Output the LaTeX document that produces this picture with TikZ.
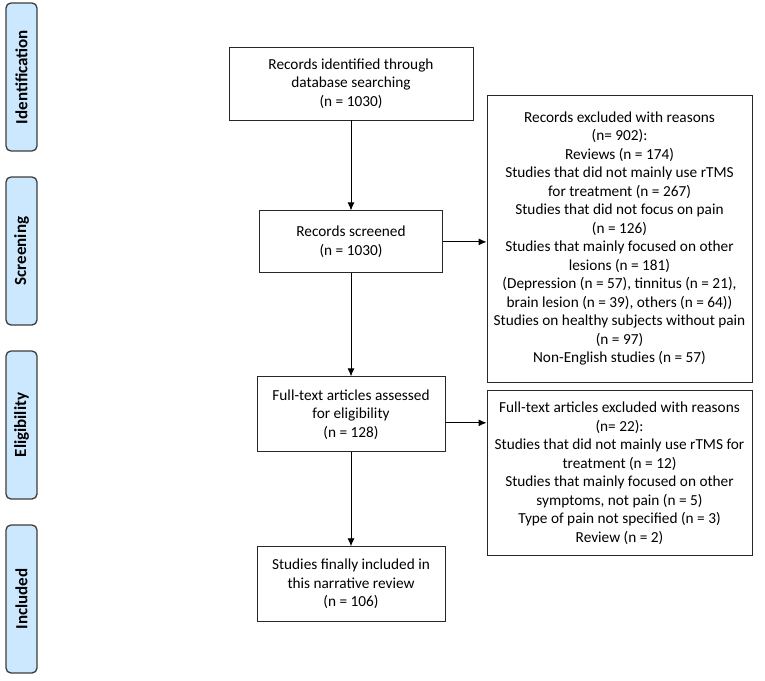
\documentclass[tikz,border=0pt]{standalone}
\usepackage{fontspec}
\setmainfont{Carlito}
\usetikzlibrary{arrows.meta,positioning}
\definecolor{stageblue}{RGB}{204,232,255}
\definecolor{stageedge}{RGB}{60,60,60}
\definecolor{boxedge}{RGB}{40,40,40}
\tikzset{%
	stage/.style = {draw=stageedge, fill=stageblue, line width=1.3pt, rounded corners=5pt, rotate=90, minimum width=148pt, minimum height=31pt, font=\fontsize{17}{19}\selectfont\bfseries}, % Phase label
	block/.style = {draw=boxedge, rectangle, line width=0.9pt, align=center, font=\fontsize{15.3}{18.5}\selectfont},
	arrow/.style = {line width=0.9pt, -{Latex[length=8pt,width=7pt]}},
}
\begin{document}
\begin{tikzpicture}[x=1pt,y=-1pt]
	\useasboundingbox (0,0) rectangle (765,680);
	% phases
	\node [stage] (idlabel) at (21.5,77) {Identification};
	\node [stage] (sclabel) at (21.5,251) {Screening};
	\node [stage] (ellabel) at (21.5,425) {Eligibility};
	\node [stage] (inlabel) at (21.5,599) {Included};
	
	% main flow
	\node [block, minimum width=244pt, minimum height=73pt] (identified) at (351,83.5) {Records identified through\\database searching\\(n = 1030)};
	\node [block, minimum width=183pt, minimum height=62pt] (screened) [below=90pt of identified] {Records screened\\(n = 1030)};
	\node [block, minimum width=188pt, minimum height=75pt] (assessed) [below=103pt of screened] {Full-text articles assessed\\for eligibility\\(n = 128)};
	\node [block, minimum width=188pt, minimum height=75pt] (included) [below=94pt of assessed] {Studies finally included in\\this narrative review\\(n = 106)};
	
	% exclusions
	\node [block, minimum width=265pt, minimum height=287pt] (excluded) at (619.5,238.5) {Records excluded with reasons\\(n= 902):\\Reviews (n = 174)\\Studies that did not mainly use rTMS\\for treatment (n = 267)\\Studies that did not focus on pain\\(n = 126)\\Studies that mainly focused on other\\lesions (n = 181)\\(Depression (n = 57), tinnitus (n = 21),\\brain lesion (n = 39), others (n = 64))\\Studies on healthy subjects without pain\\(n = 97)\\Non-English studies (n = 57)};
	\node [block, minimum width=265pt, minimum height=165pt] (ftexcluded) [below=8pt of excluded] {Full-text articles excluded with reasons\\(n= 22):\\Studies that did not mainly use rTMS for\\treatment (n = 12)\\Studies that mainly focused on other\\symptoms, not pain (n = 5)\\Type of pain not specified (n = 3)\\Review (n = 2)};
	
	\draw [arrow] (identified) -- (screened);
	\draw [arrow] (screened) -- (assessed);
	\draw [arrow] (assessed) -- (included);
	\draw [arrow] (screened.east) -- (screened.east -| excluded.west);
	\draw [arrow] ([yshift=-8.5pt]assessed.east) -- ([yshift=-8.5pt]assessed.east -| ftexcluded.west);
\end{tikzpicture}
\end{document}
